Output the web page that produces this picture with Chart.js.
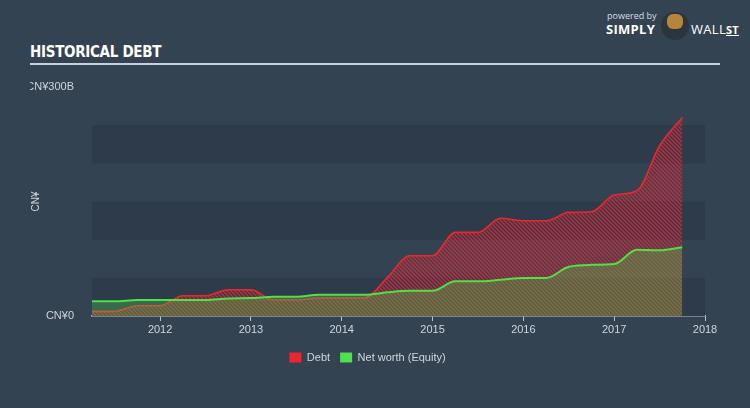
<!DOCTYPE html>
<html>
<head>
<meta charset="utf-8">
<script src="https://cdn.jsdelivr.net/npm/chart.js@4"></script>
<style>
  body { margin: 0; background: #344352; width: 750px; height: 408px; overflow: hidden; position: relative; font-family: "Open Sans", sans-serif; }
  #title { position: absolute; left: 30px; top: 43px; color: #fff; font: bold 15px "Liberation Sans Narrow", "DejaVu Sans Condensed", sans-serif; letter-spacing: -0.3px; }
  #rule { position: absolute; left: 30px; top: 63px; width: 690px; height: 2px; background: #c9d0d8; }
  #powered { position: absolute; left: 607px; top: 9px; color: #d8dde2; font-size: 9px; }
  #simply { position: absolute; left: 606px; top: 20px; color: #fff; font: bold 13px "Open Sans", sans-serif; letter-spacing: 0.3px; }
  #bull { position: absolute; left: 661px; top: 12px; width: 28px; height: 28px; border-radius: 50%; background: #2a3540; }
  #bull div { position: absolute; left: 6px; top: 2px; width: 16px; height: 15px; border-radius: 6px; background: #b8843c; }
  #wall { position: absolute; left: 691px; top: 20px; color: #fff; font: 13px "Open Sans", sans-serif; letter-spacing: 0.3px; }
  #wall u { font-weight: bold; font-size: 11px; }
  canvas { position: absolute; left: 0; top: 0; }
</style>
</head>
<body>
<div id="title">HISTORICAL DEBT</div>
<div id="rule"></div>
<div id="powered">powered by</div>
<div id="simply">SIMPLY</div>
<div id="bull"><div></div></div>
<div id="wall">WALL<u>ST</u></div>
<canvas id="debtChart" width="750" height="408"></canvas>
<script>
// quarterly points, in years
const quarters = [2011.25, 2011.5, 2011.75, 2012, 2012.25, 2012.5, 2012.75, 2013, 2013.25, 2013.5, 2013.75,
  2014, 2014.25, 2014.5, 2014.75, 2015, 2015.25, 2015.5, 2015.75, 2016, 2016.25, 2016.5, 2016.75,
  2017, 2017.25, 2017.5, 2017.75];
// CN¥ billions
const debt = [6, 6, 13.5, 13.5, 26.6, 26.6, 34.4, 34.4, 21, 21, 23.6,
  23.6, 23.6, 50, 79, 79, 109.6, 109.6, 128, 124.7, 124.7, 135.7, 136.5,
  158.5, 164, 223, 260];
const equity = [19.2, 19.2, 21, 21, 21, 21, 23, 23.5, 25.3, 25.3, 27.9,
  27.9, 27.9, 31, 33, 33, 45.4, 45.4, 47.5, 49.7, 49.7, 64.5, 67,
  68, 86.8, 86, 90];
const yearTicks = [2012, 2013, 2014, 2015, 2016, 2017, 2018];
const yTicks = [0, 300];

const labelColor = "#cfd5db";
const axisColor = "#b8c2cc";

// red hatch for the debt area
const pc = document.createElement("canvas");
pc.width = 4; pc.height = 4;
const pctx = pc.getContext("2d");
pctx.strokeStyle = "rgba(228,40,52,0.8)";
pctx.lineWidth = 1.5;
pctx.beginPath();
pctx.moveTo(0, 0); pctx.lineTo(4, 4);
pctx.moveTo(-2, 2); pctx.lineTo(2, 6);
pctx.moveTo(2, -2); pctx.lineTo(6, 2);
pctx.stroke();
const hatch = pctx.createPattern(pc, "repeat");

// alternating horizontal bands behind the data
const bands = {
  id: "bands",
  beforeDatasetsDraw(chart) {
    const { ctx, chartArea, scales } = chart;
    ctx.save();
    ctx.fillStyle = "#2e3b4a";
    for (let v = 0; v < 250; v += 100) {
      const top = scales.y.getPixelForValue(v + 50);
      const bottom = scales.y.getPixelForValue(v);
      ctx.fillRect(chartArea.left, top, chartArea.right - chartArea.left, bottom - top);
    }
    ctx.restore();
  }
};

new Chart("debtChart", {
  type: "line",
  data: {
    datasets: [
      {
        label: "Debt",
        data: quarters.map((q, i) => ({ x: q, y: debt[i] })),
        borderColor: "#e8282e",
        backgroundColor: hatch,
        borderWidth: 1.6,
        fill: "origin",
        order: 2
      },
      {
        label: "Net worth (Equity)",
        data: quarters.map((q, i) => ({ x: q, y: equity[i] })),
        borderColor: "#4fe04a",
        backgroundColor: "rgba(80,220,80,0.3)",
        borderWidth: 2,
        fill: "origin",
        order: 1
      }
    ]
  },
  options: {
    responsive: false,
    animation: false,
    layout: { padding: { left: 30, right: 45, top: 87, bottom: 35 } },
    elements: {
      point: { radius: 0 },
      line: { cubicInterpolationMode: "monotone" }
    },
    scales: {
      x: {
        type: "linear",
        min: 2011.25,
        max: 2018,
        afterBuildTicks: (axis) => { axis.ticks = yearTicks.map(v => ({ value: v })); },
        afterFit: (axis) => { axis.height = 26; },
        ticks: { color: labelColor, font: { size: 11 }, padding: 2, maxRotation: 0, callback: v => String(v) },
        grid: { drawOnChartArea: false, drawTicks: true, tickLength: 5, color: axisColor },
        border: { color: axisColor, width: 1.5 }
      },
      y: {
        min: 0,
        max: 300,
        afterBuildTicks: (axis) => { axis.ticks = yTicks.map(v => ({ value: v })); },
        afterFit: (axis) => { axis.width = 62; },
        ticks: { color: labelColor, font: { size: 11 }, padding: 10, callback: v => v === 0 ? "CN¥0" : "CN¥" + v + "B" },
        grid: { display: false },
        border: { display: false },
        title: { display: true, text: "CN¥", color: labelColor, font: { size: 10 }, padding: 0 }
      }
    },
    plugins: {
      legend: {
        position: "bottom",
        reverse: true,
        labels: {
          color: labelColor, boxWidth: 12, boxHeight: 10, font: { size: 11 }, padding: 10,
          generateLabels: (chart) => Chart.defaults.plugins.legend.labels.generateLabels(chart)
            .map(item => Object.assign(item, { fillStyle: item.strokeStyle, lineWidth: 0 }))
        }
      },
      tooltip: { enabled: false }
    }
  },
  plugins: [bands]
});
</script>
</body>
</html>
